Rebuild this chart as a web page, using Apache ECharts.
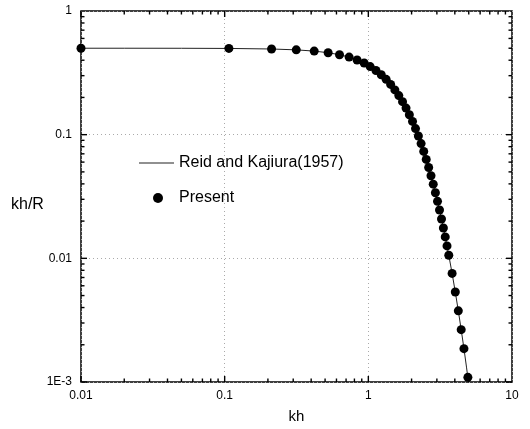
<!DOCTYPE html>
<html>
<head>
<meta charset="utf-8">
<script src="https://cdn.jsdelivr.net/npm/echarts@6/dist/echarts.min.js"></script>
<style>html,body{margin:0;padding:0;background:#fff;}#c{width:530px;height:429px;}</style>
</head>
<body>
<div id="c"></div>
<script>
// ---- data ----
const presentKh = [0.01, 0.107, 0.212, 0.315, 0.42, 0.525, 0.63, 0.735, 0.835, 0.935, 1.03, 1.13, 1.23, 1.33, 1.43, 1.53, 1.63, 1.73, 1.83, 1.93, 2.03,
  2.13, 2.23, 2.33, 2.43, 2.53, 2.63, 2.73, 2.83, 2.93, 3.03, 3.13, 3.23, 3.33, 3.43, 3.53, 3.63, 3.83, 4.03, 4.23, 4.43, 4.63, 4.93];
const presentVal = [0.5, 0.498, 0.493, 0.485, 0.474, 0.460, 0.443, 0.424, 0.402, 0.380, 0.355, 0.330, 0.305, 0.280, 0.255, 0.230, 0.207, 0.185, 0.164, 0.145, 0.128,
  0.112, 0.0975, 0.0847, 0.0732, 0.0631, 0.0543, 0.0465, 0.0398, 0.0339, 0.0289, 0.0246, 0.0208, 0.0176, 0.0149, 0.0126, 0.0106, 0.00755, 0.00534, 0.00376, 0.00265, 0.00186, 0.00109];
const reidKh = [0.01, 0.02, 0.05, 0.107, 0.212, 0.315, 0.42, 0.525, 0.63, 0.735, 0.835, 0.935, 1.03, 1.23, 1.43, 1.63, 1.83, 2.03, 2.23, 2.43, 2.63, 2.83, 3.03, 3.23, 3.43, 3.63, 3.83, 4.03, 4.23, 4.43, 4.63, 4.83, 5.03];
const reidVal = [0.5, 0.5, 0.4996, 0.498, 0.493, 0.485, 0.474, 0.460, 0.443, 0.424, 0.402, 0.380, 0.355, 0.305, 0.255, 0.207, 0.164, 0.128, 0.0975, 0.0732, 0.0543, 0.0398, 0.0289, 0.0208, 0.0149, 0.0106, 0.00755, 0.00534, 0.00376, 0.00265, 0.00186, 0.0013, 0.000907];
const xTickLabels = ['0.01', '0.1', '1', '10'];
const yTickLabels = ['1E-3', '0.01', '0.1', '1'];
const seriesNames = ['Reid and Kajiura(1957)', 'Present'];
const xTitle = 'kh';
const yTitle = 'kh/R';

// ---- build helpers ----
const FONT = "'Liberation Sans', Arial, Helvetica, sans-serif";
const X_MIN = 0.01, X_MAX = 10, Y_MIN = 0.001, Y_MAX = 1;
const mults = [1, 2, 3, 4, 5, 6, 7, 8, 9];
const xTickVals = [], yTickVals = [];
[0.01, 0.1, 1].forEach(d => mults.forEach(m => xTickVals.push({ v: +(d * m).toPrecision(6), major: m === 1 })));
[0.001, 0.01, 0.1].forEach(d => mults.forEach(m => yTickVals.push({ v: +(d * m).toPrecision(6), major: m === 1 })));

function lab(arr, minExp) {
  return function (v) {
    const i = Math.round(Math.log10(v)) - minExp;
    return arr[i] !== undefined ? arr[i] : '';
  };
}
const TW = 1.4;
function tickSeries(side) {
  const data = [];
  if (side === 'bottom' || side === 'top') {
    xTickVals.forEach(t => {
      const len = t.major ? 6 : 3.5;
      data.push({
        value: [t.v, side === 'bottom' ? Y_MIN : Y_MAX],
        symbolSize: [TW, len],
        symbolOffset: [0, side === 'bottom' ? -len / 2 : len / 2]
      });
    });
  } else {
    yTickVals.forEach(t => {
      const len = t.major ? 6 : 3.5;
      data.push({
        value: [side === 'left' ? X_MIN : X_MAX, t.v],
        symbolSize: [len, TW],
        symbolOffset: [side === 'left' ? len / 2 : -len / 2, 0]
      });
    });
  }
  return {
    type: 'scatter', symbol: 'rect', data: data, clip: false, silent: true, z: 4,
    itemStyle: { color: '#000', opacity: 1 }, emphasis: { disabled: true }
  };
}

const chart = echarts.init(document.getElementById('c'), null, { renderer: 'canvas' });
chart.setOption({
  animation: false,
  backgroundColor: '#fff',
  textStyle: { fontFamily: FONT },
  grid: { left: 81, right: 18, top: 11, bottom: 47, show: true, borderColor: '#000', borderWidth: 1.5, backgroundColor: 'transparent' },
  xAxis: {
    type: 'log', logBase: 10, min: X_MIN, max: X_MAX,
    axisLine: { show: false },
    axisTick: { show: false },
    axisLabel: { margin: 8, fontSize: 12, color: '#000', fontFamily: FONT, formatter: lab(xTickLabels, -2), showMaxLabel: true, showMinLabel: true },
    splitLine: { show: true, lineStyle: { type: [1, 3], color: '#aaa', width: 1 } },
    name: xTitle, nameLocation: 'middle', nameGap: 27,
    nameTextStyle: { fontSize: 15, color: '#000', fontFamily: FONT }
  },
  yAxis: {
    type: 'log', logBase: 10, min: Y_MIN, max: Y_MAX,
    axisLine: { show: false },
    axisTick: { show: false },
    axisLabel: { margin: 9, fontSize: 12, color: '#000', fontFamily: FONT, formatter: lab(yTickLabels, -3), showMaxLabel: true, showMinLabel: true },
    splitLine: { show: true, lineStyle: { type: [1, 3], color: '#aaa', width: 1 } }
  },
  graphic: [{
    type: 'text', left: 11, top: 197, z: 10,
    style: { text: yTitle, fill: '#000', font: '16px ' + FONT }
  }],
  legend: [{
    data: [{ name: seriesNames[0], icon: 'path://M0,0L35,0L35,1L0,1Z' }], left: 134, top: 150, orient: 'vertical',
    itemWidth: 35, itemHeight: 14,
    textStyle: { fontSize: 16, color: '#000', fontFamily: FONT }
  }, {
    data: [seriesNames[1]], left: 148, top: 185, orient: 'vertical',
    itemWidth: 32, itemHeight: 10, icon: 'circle',
    textStyle: { fontSize: 16, color: '#000', fontFamily: FONT }
  }],
  series: [{
    name: seriesNames[0], type: 'line', symbol: 'none', smooth: false,
    data: reidKh.map((x, i) => [x, reidVal[i]]),
    lineStyle: { color: '#222', width: 1 }, itemStyle: { color: '#222' },
    clip: true, z: 2
  }, {
    name: seriesNames[1], type: 'scatter', symbol: 'circle', symbolSize: 9,
    data: presentKh.map((x, i) => [x, presentVal[i]]),
    itemStyle: { color: '#000', opacity: 1 }, z: 3
  },
  tickSeries('bottom'), tickSeries('top'), tickSeries('left'), tickSeries('right')]
});
</script>
</body>
</html>
